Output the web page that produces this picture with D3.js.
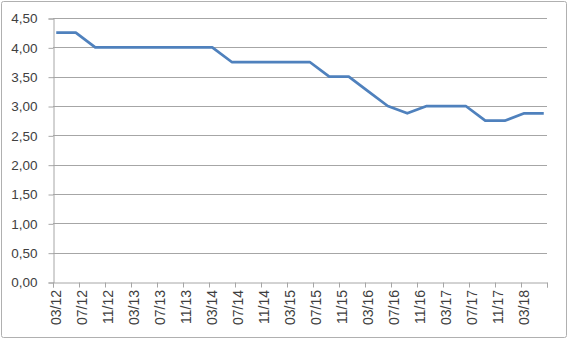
<!DOCTYPE html>
<html>
<head>
<script src="https://cdn.jsdelivr.net/npm/d3@7"></script>
<style>
body { margin: 0; background: #fff; }
text { font-family: 'Liberation Sans', Arial, sans-serif; fill: #404040; }
</style>
</head>
<body>
<svg id="chart" width="570" height="341"></svg>
<script>
  // quarterly observations (month/year)
  var dates = ["03/12","06/12","09/12","12/12","03/13","06/13","09/13","12/13",
               "03/14","06/14","09/14","12/14","03/15","06/15","09/15","12/15",
               "03/16","06/16","09/16","12/16","03/17","06/17","09/17","12/17",
               "03/18","06/18"];
  var values = [4.25,4.25,4.00,4.00,4.00,4.00,4.00,4.00,
                4.00,3.75,3.75,3.75,3.75,3.75,3.50,3.50,
                3.25,3.00,2.875,3.00,3.00,3.00,2.75,2.75,
                2.875,2.875];
  // category axis is monthly, 03/12 .. 06/18, labelled every 4 months
  var tickLabels = ["03/12","07/12","11/12","03/13","07/13","11/13","03/14","07/14",
                    "11/14","03/15","07/15","11/15","03/16","07/16","11/16","03/17",
                    "07/17","11/17","03/18"];
  var yTicks = [0,0.5,1,1.5,2,2.5,3,3.5,4,4.5];
  var nMonths = 76;

  function monthIndex(s) {
    var p = s.split("/");
    return (+p[1] - 12) * 12 + (+p[0] - 3);
  }

  var svg = d3.select("#chart");

  svg.append("rect")
    .attr("x", 1.5).attr("y", 1.5)
    .attr("width", 565).attr("height", 336)
    .attr("rx", 2)
    .attr("fill", "#fff")
    .attr("stroke", "#b0b0b0");

  var x = d3.scaleLinear().domain([0, nMonths]).range([53, 547]);
  var y = d3.scaleLinear().domain([0, 4.5]).range([282, 18]);
  var fmt = function (d) { return d.toFixed(2).replace(".", ","); };

  // gridlines
  svg.append("g").selectAll("line")
    .data(yTicks.filter(function (d) { return d > 0; }))
    .enter().append("line")
    .attr("x1", x(0)).attr("x2", x(nMonths))
    .attr("y1", function (d) { return Math.round(y(d)) + 0.5; })
    .attr("y2", function (d) { return Math.round(y(d)) + 0.5; })
    .attr("stroke", "#a6a6a6");

  // y axis
  var yAxis = svg.append("g")
    .attr("transform", "translate(" + (x(0) + 0.5) + ",0.5)")
    .call(d3.axisLeft(y).tickValues(yTicks).tickFormat(fmt).tickSize(5).tickPadding(11));
  yAxis.select(".domain").attr("stroke", "#a6a6a6");
  yAxis.selectAll(".tick line").attr("stroke", "#a6a6a6");
  yAxis.selectAll("text").style("font-size", "13.5px").attr("fill", "#404040");

  // x axis
  var xTickVals = d3.range(0, nMonths + 1, 4);
  var xAxis = svg.append("g")
    .attr("transform", "translate(0," + (Math.round(y(0)) + 0.5) + ")")
    .call(d3.axisBottom(x).tickValues(xTickVals).tickSize(5).tickFormat(""));
  xAxis.select(".domain").attr("stroke", "#a6a6a6");
  xAxis.selectAll(".tick line").attr("stroke", "#a6a6a6");

  svg.append("g").selectAll("text")
    .data(tickLabels)
    .enter().append("text")
    .attr("transform", function (d) {
      return "translate(" + (x(monthIndex(d) + 0.5) + 4.5) + "," + (y(0) + 8) + ") rotate(-90)";
    })
    .attr("text-anchor", "end")
    .style("font-size", "14px")
    .text(function (d) { return d; });

  // series
  var line = d3.line()
    .x(function (d, i) { return x(monthIndex(dates[i]) + 0.5); })
    .y(function (d) { return y(d); });

  svg.append("path")
    .datum(values)
    .attr("fill", "none")
    .attr("stroke", "#4f81bd")
    .attr("stroke-width", 2.75)
    .attr("stroke-linejoin", "round")
    .attr("d", line);
</script>
</body>
</html>
